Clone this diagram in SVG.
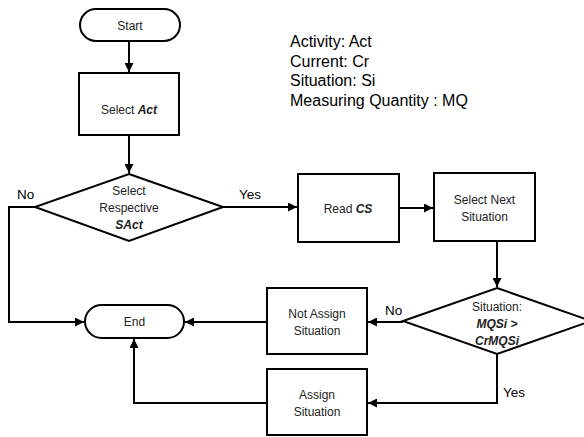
<svg xmlns="http://www.w3.org/2000/svg" width="584" height="437" viewBox="0 0 584 437">
  <style>
    .shape { fill: #ffffff; stroke: #000000; stroke-width: 2; }
    .wire { fill: none; stroke: #000000; stroke-width: 2; }
    .label { font-family: "Liberation Sans", Arial, sans-serif; font-size: 12px; fill: #222222; text-anchor: middle; }
    .em { font-weight: bold; font-style: italic; }
    .branch { font-family: "Liberation Sans", Arial, sans-serif; font-size: 13.5px; fill: #000000; }
    .legend { font-family: "Liberation Sans", Arial, sans-serif; font-size: 16px; fill: #000000; }
  </style>
  <defs>
    <marker id="arrow" viewBox="0 0 10 10" refX="10" refY="5" markerWidth="4.5" markerHeight="4.5" orient="auto" markerUnits="strokeWidth">
      <path d="M0,0 L10,5 L0,10 Z" fill="#000000"/>
    </marker>
  </defs>

  <rect width="584" height="437" fill="#ffffff"/>

  <!-- legend -->
  <g id="legend">
    <text class="legend" x="290" y="47">Activity: Act</text>
    <text class="legend" x="290" y="66.5">Current: Cr</text>
    <text class="legend" x="290" y="86">Situation: Si</text>
    <text class="legend" x="290" y="105.5">Measuring Quantity : MQ</text>
  </g>

  <!-- connectors -->
  <g id="connectors">
    <line class="wire" x1="129" y1="41" x2="129" y2="72" marker-end="url(#arrow)"/>
    <line class="wire" x1="129" y1="135" x2="129" y2="173" marker-end="url(#arrow)"/>
    <polyline class="wire" points="35,207 9,207 9,322 84,322" marker-end="url(#arrow)"/>
    <line class="wire" x1="223" y1="207" x2="297" y2="207" marker-end="url(#arrow)"/>
    <line class="wire" x1="399" y1="208" x2="433" y2="208" marker-end="url(#arrow)"/>
    <line class="wire" x1="497" y1="241" x2="497" y2="287" marker-end="url(#arrow)"/>
    <line class="wire" x1="403" y1="322" x2="368" y2="322" marker-end="url(#arrow)"/>
    <line class="wire" x1="267" y1="322" x2="185" y2="322" marker-end="url(#arrow)"/>
    <polyline class="wire" points="497,354 497,403 368,403" marker-end="url(#arrow)"/>
    <polyline class="wire" points="267,403 134,403 134,339" marker-end="url(#arrow)"/>
    <text class="branch" x="17" y="199">No</text>
    <text class="branch" x="239" y="199">Yes</text>
    <text class="branch" x="385" y="315">No</text>
    <text class="branch" x="503" y="397">Yes</text>
  </g>

  <g id="start">
    <rect class="shape" x="80" y="9" width="100" height="32" rx="16" ry="16"/>
    <text class="label" x="130" y="29.5">Start</text>
  </g>

  <g id="select-act">
    <rect class="shape" x="79" y="73" width="100" height="62"/>
    <text class="label" x="129" y="114">Select <tspan class="em">Act</tspan></text>
  </g>

  <g id="select-sact">
    <polygon class="shape" points="129,174 223,207 129,241 35,207"/>
    <text class="label" x="129" y="195">Select</text>
    <text class="label" x="129" y="212">Respective</text>
    <text class="label em" x="129" y="229">SAct</text>
  </g>

  <g id="read-cs">
    <rect class="shape" x="298" y="174" width="101" height="68"/>
    <text class="label" x="348" y="213">Read <tspan class="em">CS</tspan></text>
  </g>

  <g id="select-next">
    <rect class="shape" x="434" y="173" width="101" height="68"/>
    <text class="label" x="484.5" y="204">Select Next</text>
    <text class="label" x="484.5" y="221">Situation</text>
  </g>

  <g id="situation-check">
    <polygon class="shape" points="497,288 591,321 497,354 403,321"/>
    <text class="label" x="497" y="311">Situation:</text>
    <text class="label em" x="497" y="328">MQSi &gt;</text>
    <text class="label em" x="497" y="345">CrMQSi</text>
  </g>

  <g id="not-assign">
    <rect class="shape" x="267" y="288" width="100" height="66"/>
    <text class="label" x="317" y="318">Not Assign</text>
    <text class="label" x="317" y="335">Situation</text>
  </g>

  <g id="assign">
    <rect class="shape" x="267" y="369" width="100" height="66"/>
    <text class="label" x="317" y="399">Assign</text>
    <text class="label" x="317" y="416">Situation</text>
  </g>

  <g id="end">
    <rect class="shape" x="85" y="305" width="99" height="33" rx="16.5" ry="16.5"/>
    <text class="label" x="134.5" y="326">End</text>
  </g>
</svg>
